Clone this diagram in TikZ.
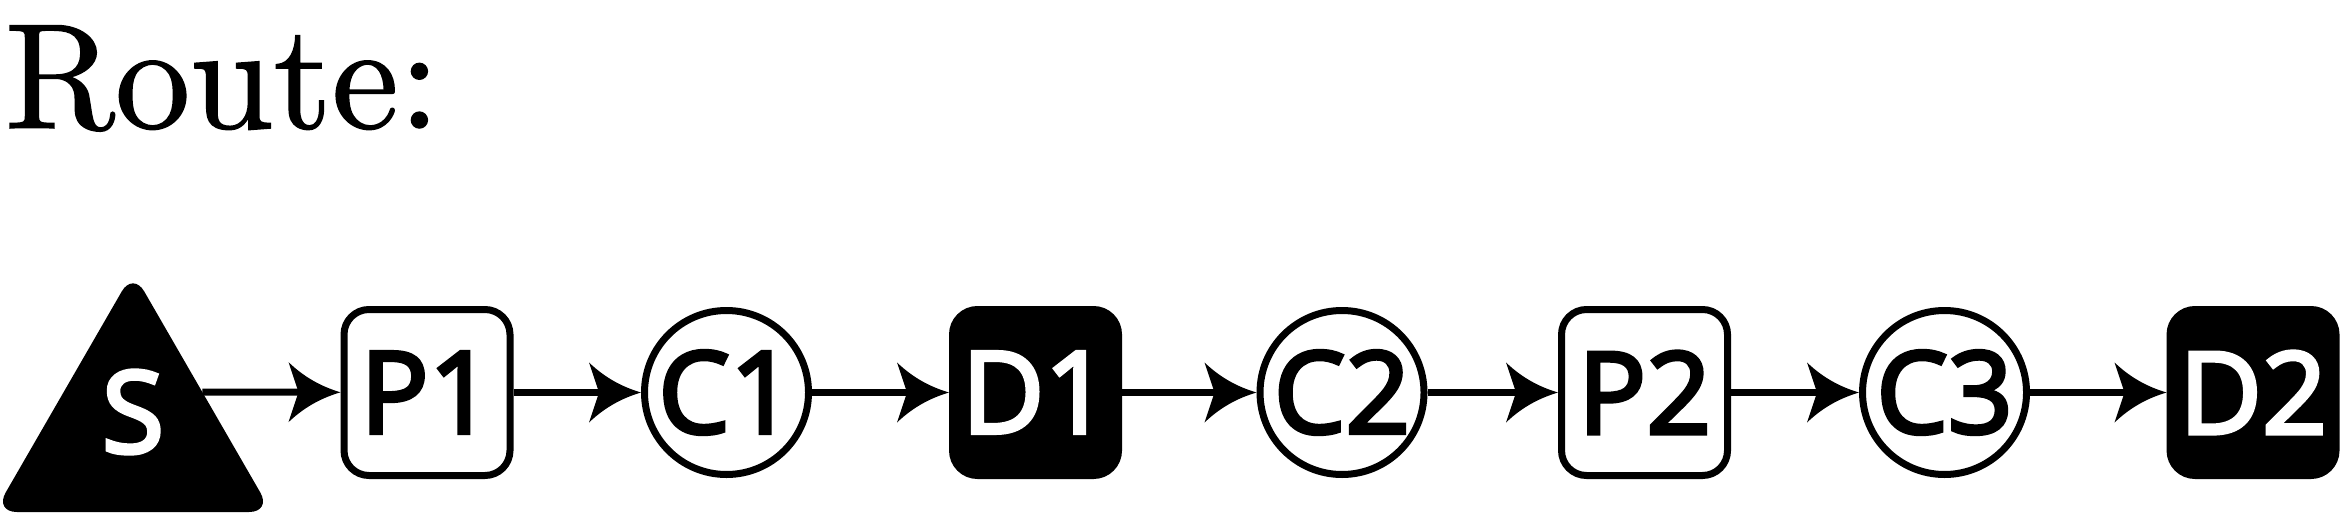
\documentclass[tikz,border=0pt]{standalone}
\usepackage{fontspec}
\newfontfamily\labelfont{Open Sans}[FakeBold=3.5]
\newfontfamily\headfont{lmroman10-regular}[Extension=.otf, FakeBold=1]
\usetikzlibrary{arrows.meta,shapes.geometric}

% swept arrow head with hollow flanks
\pgfdeclarearrow{
  name=Swept,
  setup code={
    \pgfarrowssettipend{0pt}
    \pgfarrowssetlineend{-6pt}
    \pgfarrowssetbackend{-13pt}
  },
  drawing code={
    \pgfpathmoveto{\pgfpointorigin}
    \pgfpathcurveto{\pgfpoint{-4pt}{1.2pt}}{\pgfpoint{-8.5pt}{3.2pt}}{\pgfpoint{-13pt}{7.5pt}}
    \pgfpathlineto{\pgfpoint{-10.5pt}{0pt}}
    \pgfpathlineto{\pgfpoint{-13pt}{-7.5pt}}
    \pgfpathcurveto{\pgfpoint{-8.5pt}{-3.2pt}}{\pgfpoint{-4pt}{-1.2pt}}{\pgfpointorigin}
    \pgfpathclose
    \pgfusepathqfill
  }
}

\tikzset{
  lbl/.style={font=\labelfont\fontsize{28.4}{30}\selectfont},
  pnode/.style={draw, lbl, line width=1.75pt, rounded corners=6.25pt,
    minimum size=41.5pt, inner sep=0pt},
  dnode/.style={pnode, fill=black, text=white},
  cnode/.style={draw, lbl, circle, line width=1.75pt, minimum size=41pt, inner sep=0pt},
  srcnode/.style={regular polygon, regular polygon sides=3, fill=black,
    minimum size=80pt, inner sep=0pt, outer sep=0pt, rounded corners=5.6pt},
  leg/.style={line width=1.75pt, -Swept}
}

\begin{document}
\begin{tikzpicture}[x=0.25pt, y=-0.25pt]
  \useasboundingbox (0,0) rectangle (2340,513);
  % heading
  \node[anchor=base west, inner sep=0pt, font=\headfont\fontsize{37.5}{40}\selectfont] (title) at (4,128) {Route:};
  % stops along the route
  \node[srcnode, label={[lbl, text=white, yshift=5pt]center:S}] (S) at (133,432) {};
  \node[pnode] (P1) at (427,392.5) {P1};
  \node[cnode] (C1) at (726.5,392.5) {C1};
  \node[dnode] (D1) at (1035.5,392.5) {D1};
  \node[cnode] (C2) at (1342,392.5) {C2};
  \node[pnode] (P2) at (1644.5,392.5) {P2};
  \node[cnode] (C3) at (1944.5,392.5) {C3};
  \node[dnode] (D2) at (2253,392.5) {D2};
  % legs
  \draw[leg] (S.side 3) -- (P1);
  \draw[leg] (P1) -- (C1);
  \draw[leg] (C1) -- (D1);
  \draw[leg] (D1) -- (C2);
  \draw[leg] (C2) -- (P2);
  \draw[leg] (P2) -- (C3);
  \draw[leg] (C3) -- (D2);
\end{tikzpicture}
\end{document}
